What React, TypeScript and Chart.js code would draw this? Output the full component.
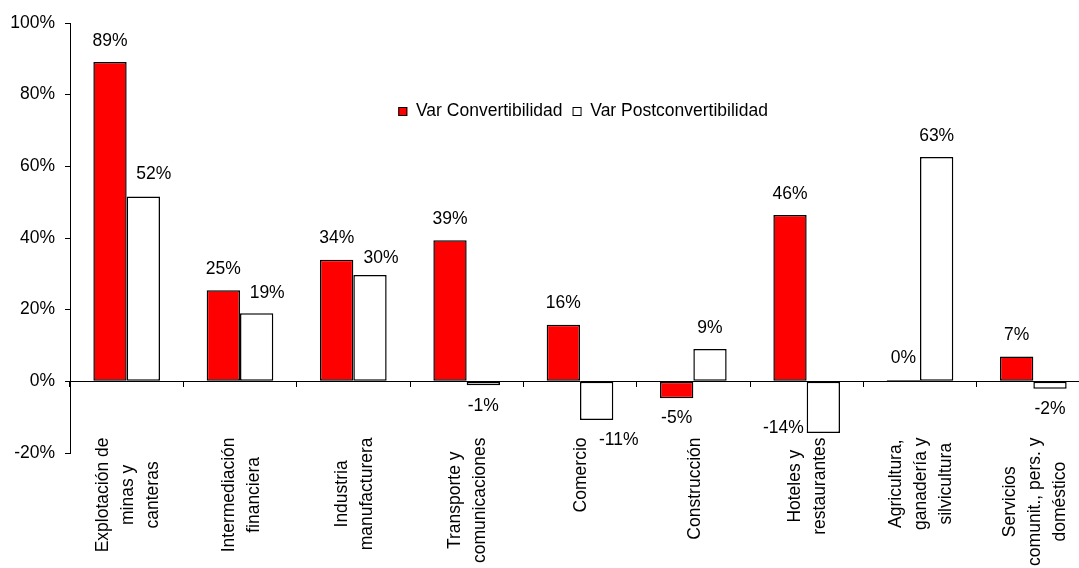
import React, { useEffect, useRef } from "react";
import { Chart, registerables } from "chart.js";

Chart.register(...registerables);

// Sector names, one entry per line of the rotated category label
const CATEGORIES: string[][] = [
  ["Explotación de", "minas y", "canteras"],
  ["Intermediación", "financiera"],
  ["Industria", "manufacturera"],
  ["Transporte y", "comunicaciones"],
  ["Comercio"],
  ["Construcción"],
  ["Hoteles y", "restaurantes"],
  ["Agricultura,", "ganadería y", "silvicultura"],
  ["Servicios", "comunit., pers. y", "doméstico"],
];

const SERIES_NAMES = ["Var Convertibilidad", "Var Postconvertibilidad"];

// Percentage change per sector
const VAR_CONVERTIBILIDAD = [89.1, 25.4, 33.9, 39.4, 15.8, -4.7, 46.4, 0.4, 6.9];
const VAR_POSTCONVERTIBILIDAD = [51.6, 19.0, 29.7, -1.1, -10.8, 9.0, -14.4, 62.6, -2.1];

const Y_MIN = -20;
const Y_MAX = 100;
const Y_STEP = 20;

const SERIES_COLORS = ["#FF0000", "#FFFFFF"];

const FONT_FAMILY = "'Liberation Sans', Arial, Helvetica, sans-serif";
const FONT_SIZE = 17.5;
const CAP_HALF = 6.25;

// Hand-placed value labels (series index, category index) -> [dx, dy]
const LABEL_NUDGE: Record<string, [number, number]> = {
  "1-0": [10.5, -1],
  "1-1": [10.5, 1],
  "1-2": [11, 5],
  "1-4": [22, 0],
  "1-6": [-40, -25],
};

const pct = (v: number) => `${Math.round(v) === 0 ? 0 : Math.round(v)}%`;

const valueLabels = {
  id: "valueLabels",
  afterDatasetsDraw(chart: any) {
    const { ctx } = chart;
    ctx.save();
    ctx.font = `${FONT_SIZE}px ${FONT_FAMILY}`;
    ctx.fillStyle = "#000";
    ctx.textAlign = "center";
    ctx.textBaseline = "alphabetic";
    chart.data.datasets.forEach((ds: any, di: number) => {
      const meta = chart.getDatasetMeta(di);
      meta.data.forEach((el: any, i: number) => {
        const v = ds.data[i] as number;
        const [dx, dy] = LABEL_NUDGE[`${di}-${i}`] || [0, 0];
        const centerY = v >= 0 ? el.y - 22.7 : el.y + 19;
        ctx.fillText(pct(v), el.x + dx, centerY + dy + CAP_HALF);
      });
    });
    ctx.restore();
  },
};

const categoryLabels = {
  id: "categoryLabels",
  afterDraw(chart: any) {
    const { ctx, chartArea } = chart;
    const xs = chart.scales.x;
    const lineGap = 25;
    ctx.save();
    ctx.font = `${FONT_SIZE}px ${FONT_FAMILY}`;
    ctx.fillStyle = "#000";
    ctx.textAlign = "center";
    ctx.textBaseline = "alphabetic";
    CATEGORIES.forEach((lines, i) => {
      const cx = xs.getPixelForValue(i);
      const maxW = Math.max(...lines.map((l) => ctx.measureText(l).width));
      const b0 = CAP_HALF - ((lines.length - 1) * lineGap) / 2;
      ctx.save();
      ctx.translate(cx, chartArea.bottom - 15.5);
      ctx.rotate(-Math.PI / 2);
      lines.forEach((line, j) => {
        ctx.fillText(line, -maxW / 2, b0 + j * lineGap);
      });
      ctx.restore();
    });
    ctx.restore();
  },
};

const seriesLegend = {
  id: "seriesLegend",
  afterDraw(chart: any) {
    const { ctx, chartArea } = chart;
    ctx.save();
    ctx.font = `${FONT_SIZE}px ${FONT_FAMILY}`;
    ctx.textAlign = "left";
    ctx.textBaseline = "alphabetic";
    let x = chartArea.left + 328.3;
    const top = chartArea.top + 84;
    chart.data.datasets.forEach((ds: any) => {
      ctx.fillStyle = ds.backgroundColor;
      ctx.fillRect(x, top, 9, 9);
      ctx.strokeStyle = "#000";
      ctx.lineWidth = 1;
      ctx.strokeRect(x + 0.5, top + 0.5, 8, 8);
      ctx.fillStyle = "#000";
      const tx = x + 17.7;
      ctx.fillText(ds.label, tx, top + 9.4);
      x = tx + ctx.measureText(ds.label).width + 10;
    });
    ctx.restore();
  },
};

export default function App() {
  const canvasRef = useRef<HTMLCanvasElement | null>(null);

  useEffect(() => {
    if (!canvasRef.current) return;
    const font = { family: FONT_FAMILY, size: FONT_SIZE };
    const chart = new Chart(canvasRef.current, {
      type: "bar",
      data: {
        labels: CATEGORIES,
        datasets: [VAR_CONVERTIBILIDAD, VAR_POSTCONVERTIBILIDAD].map((data, k) => ({
          label: SERIES_NAMES[k],
          data,
          backgroundColor: SERIES_COLORS[k],
          borderColor: "#000",
          borderWidth: 1.5,
          borderSkipped: false,
          categoryPercentage: 0.588,
          barPercentage: 1,
        })),
      },
      options: {
        responsive: false,
        animation: false,
        devicePixelRatio: 1,
        layout: { padding: { top: 23, right: 1, bottom: 147, left: 0 } },
        plugins: {
          legend: { display: false },
          tooltip: { enabled: false },
        },
        scales: {
          x: {
            type: "category",
            position: { y: 0 } as any,
            offset: true,
            ticks: { display: false },
            grid: {
              display: true,
              offset: true,
              drawOnChartArea: false,
              drawTicks: true,
              tickLength: 5,
              color: "#000",
              lineWidth: 1,
            },
            border: { display: true, color: "#000", width: 1 },
          },
          y: {
            min: Y_MIN,
            max: Y_MAX,
            afterFit: (s: any) => {
              s.width = 70;
            },
            ticks: {
              stepSize: Y_STEP,
              color: "#000",
              font,
              padding: 10,
              callback: (v: any) => `${v}%`,
            },
            grid: {
              drawOnChartArea: false,
              drawTicks: true,
              tickLength: 5,
              color: "#000",
            },
            border: { display: true, color: "#000", width: 1 },
          },
        },
      },
      plugins: [valueLabels, categoryLabels, seriesLegend],
    } as any);
    return () => chart.destroy();
  }, []);

  return (
    <div
      style={{
        position: "fixed",
        left: 0,
        top: 0,
        width: 1079,
        height: 568,
        overflow: "hidden",
        background: "#fff",
      }}
    >
      <canvas ref={canvasRef} width={1091} height={600} style={{ display: "block" }} />
    </div>
  );
}
